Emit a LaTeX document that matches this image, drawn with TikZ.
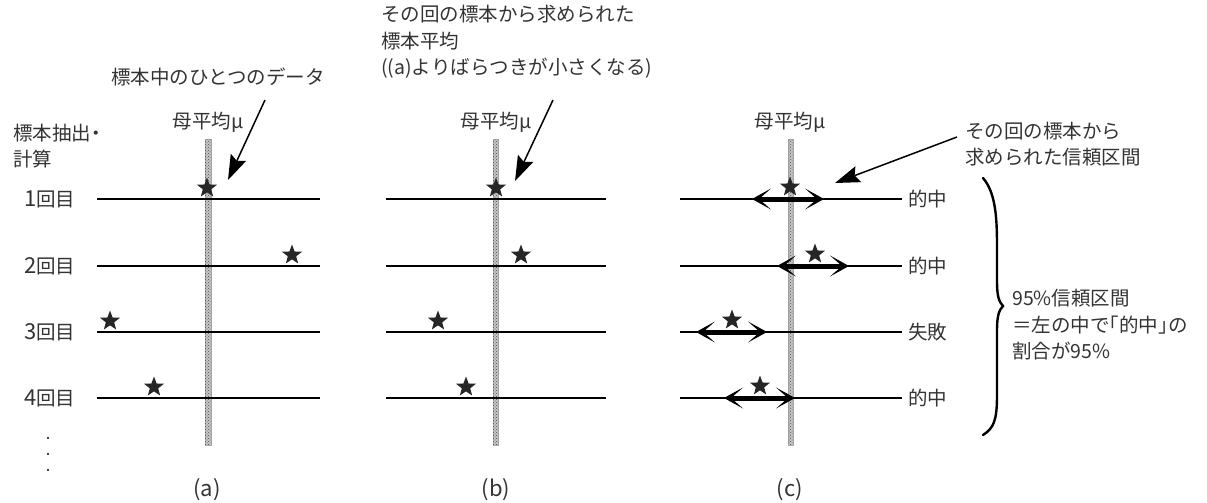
\documentclass[tikz,border=0pt]{standalone}
\usepackage{fontspec}
\setmainfont{Noto Sans CJK JP}
\usetikzlibrary{arrows.meta,shapes.geometric,patterns}

\tikzset{
  lbl/.style={inner sep=0pt, text=black!80, align=left, font=\fontsize{19.5pt}{26.5pt}\selectfont\addfontfeatures{RawFeature=+halt}},
  panelcap/.style={inner sep=0pt, text=black!80, font=\fontsize{22pt}{26pt}\selectfont},
  rowline/.style={line width=1.6pt},
  meanbar/.style={fill=gray!45, draw=gray!70, line width=0.4pt},
  sample/.style={star, star points=5, star point ratio=2.4, fill=black!85, inner sep=0pt, minimum size=21pt},
  callout/.style={line width=1.5pt, -{Stealth[length=25pt,width=17pt,inset=4pt,line width=0pt]}},
  interval/.style={line width=5pt, {Stealth[length=19pt,width=21pt,inset=12pt,line width=0.9pt]}-{Stealth[length=19pt,width=21pt,inset=12pt,line width=0.9pt]}},
}

\begin{document}
\begin{tikzpicture}[x=1pt, y=-1pt]

        \useasboundingbox (0,0) rectangle (1207,503);

        % 1. Barre del parametro (media della popolazione) nei tre pannelli
        \filldraw[meanbar] (205,139) rectangle (211,445);
        \filldraw[meanbar] (493,139) rectangle (498,445);
        \filldraw[meanbar] (788,139) rectangle (793,445);
        \fill[pattern=crosshatch dots, pattern color=black!70] (205,139) rectangle (211,445)
              (493,139) rectangle (498,445) (788,139) rectangle (793,445);
        \node[lbl] (muA) at (208,122) {母平均μ};
        \node[lbl] (muB) at (496,122) {母平均μ};
        \node[lbl] (muC) at (790,122) {母平均μ};

        % 2. Etichette a sinistra e titoli dei pannelli
        \node[lbl, anchor=west] (sampLbl) at (13,146) {標本抽出・\\計算};
        \node[panelcap] (capA) at (207,490) {(a)};
        \node[panelcap] (capB) at (496,490) {(b)};
        \node[panelcap] (capC) at (790,490) {(c)};
        \fill (48,438) circle (1.2pt) (48,454) circle (1.2pt) (48,470) circle (1.2pt);

        % 3. Quattro estrazioni: righe, stelle, intervalli ed esito
        \foreach \k/\y/\xa/\xb/\xc/\lo/\hi/\res in {1/199/207/496/790/752/824/的中,
                                                  2/266/292/521/815/777/849/的中,
                                                  3/332/110/438/732/696/767/失敗,
                                                  4/398/154/466/760/724/795/的中}{
          \node[lbl, anchor=west] (row\k) at (24,\y) {{\fontsize{22pt}{26pt}\selectfont\k}回目};
          \draw[rowline] (97,\y) -- (320,\y);
          \draw[rowline] (386,\y) -- (606,\y);
          \node[lbl, anchor=west] (res\k) at (908,\y) {\res};
          \draw[rowline] (680,\y) -- ([xshift=-6pt]res\k.west);
          \node[sample] (sa\k) at (\xa,\y-11) {};
          \node[sample] (sb\k) at (\xb,\y-11) {};
          \node[sample] (sc\k) at (\xc,\y-12) {};
          \coordinate (lo\k) at (\lo,\y);
          \coordinate (hi\k) at (\hi,\y);
          \draw[interval] (lo\k) -- (hi\k);
        }

        % 4. Didascalie in alto con le frecce
        \node[lbl] (dataLbl) at (218,77) {標本中のひとつのデータ};
        \coordinate (dataS) at (265,100);
        \coordinate (dataT) at (228,180);
        \draw[callout] (dataS) -- (dataT);

        \node[lbl, anchor=west] (meanLbl) at (381,42) {その回の標本から求められた\\標本平均\\((a)よりばらつきが小さくなる)};
        \coordinate (meanS) at (553,100);
        \coordinate (meanT) at (515,181);
        \draw[callout] (meanS) -- (meanT);

        \node[lbl, anchor=west] (ciLbl) at (965,144) {その回の標本から\\求められた信頼区間};
        \coordinate (ciS) at (957,137);
        \coordinate (ciT) at (835,183);
        \draw[callout] (ciS) -- (ciT);

        % 5. Graffa e conclusione sul 95%
        \draw[line width=2.4pt, line cap=round] (983,178) .. controls (995,192) and (997,215) .. (997,245)
              -- (997,282) .. controls (997,296) and (999,302) .. (1003,306)
              .. controls (999,310) and (997,316) .. (997,330) -- (997,395)
              .. controls (997,420) and (994,428) .. (983,435);
        \node[lbl, anchor=west] (sumLbl) at (1012,325) {95\%信頼区間\\＝左の中で「的中」の\\割合が95\%};

    \end{tikzpicture}
\end{document}
